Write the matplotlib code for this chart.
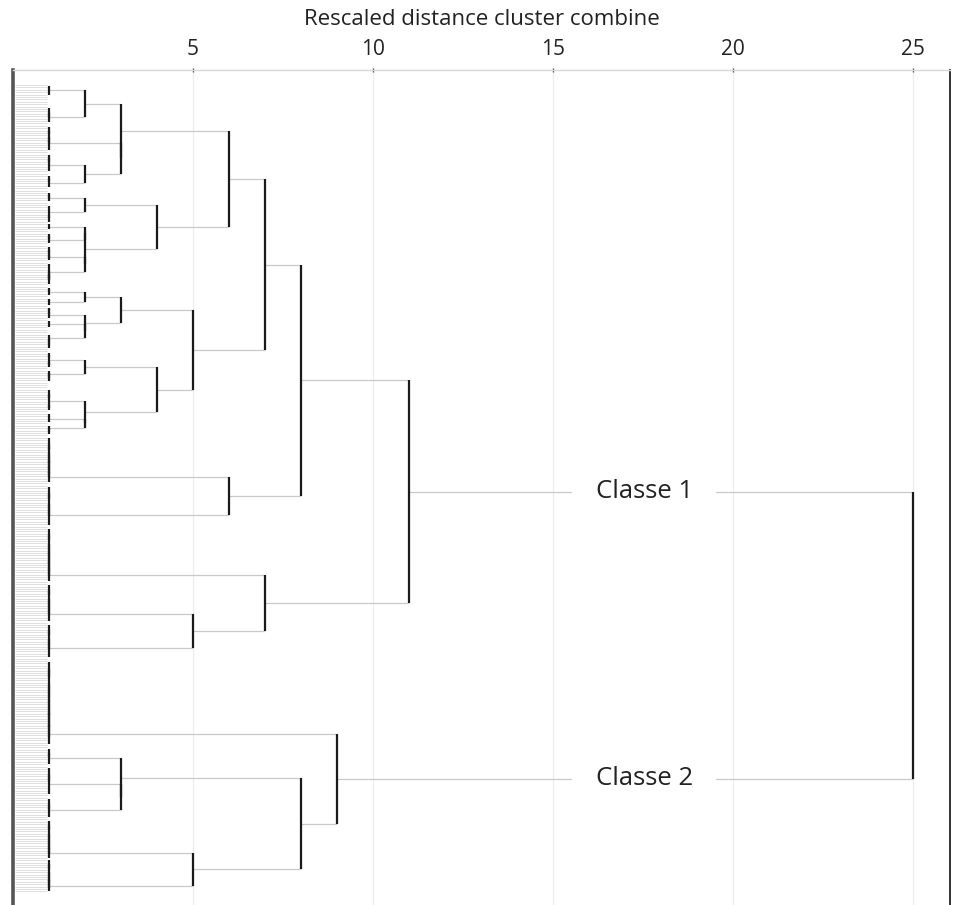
import matplotlib
matplotlib.use("Agg")
import matplotlib.pyplot as plt

plt.rcParams['font.family'] = ['Open Sans', 'DejaVu Sans']

# ---- data: dendrogram structure -------------------------------------------
# A node is (merge_distance, child1, child2, ...); children merge in sequence.
# An integer child is a tight sub-cluster with that many cases (distance ~0).
G1 = (1, 2, 5)
G2 = (1, (1, 6, 2), 2)
G3 = (1, (1, (1, 2, 4), 3), 3)
G4 = (1, (1, 1, 5), 3)
G5 = (1, (1, 1, 3), 2)
G6 = (1, (1, 3, 1), 2)
G7 = (1, 2, (1, 5, 1))
G8 = (1, 1, 3)
G9 = (1, (1, 1, 3), 1)
G10 = (1, (1, (1, 2, 3), 1), 1)
G11 = (1, 2, (1, (1, 4, 3), 1))
G12 = (1, (1, 2, 1), 2)
G13 = (1, (1, 1, 1), 2)
G14 = (1, (1, (1, 1, 1), 2), 1)
G15 = (1, 2, 3)
G16 = (1, 3, (1, 1, (1, 2, 2)))
G17 = (1, (1, 2, 2), (1, 2, 2))
G18 = (1, 1, (1, (1, 1, 1), 4))
G19 = (1, (1, 3, 4), (1, 2, 2))
G20 = (1, (1, 1, 2), 2)
G21 = (1, 1, (1, 1, (1, 1, 2)))
G22 = (1, 1, 9, 2, 2, 2, 2, 2)
G23 = (1, 2, 8, 6, 2)
G24 = (1, 1, 8, 4, 3, 3, 2, 2)
G25 = (1, 2, 6, 4, 3, 2)
G26 = (1, 1, 7, 5, 2)
G27 = (1, 2, 10, 8, 6, 4, 4, 2)
G28 = (1, 2, 5, 1)
G29 = (1, 2, 9, 2)
G30 = (1, 2, 6, 1)
G31 = (1, 2, 6, 4, 2, 2, 1)
G32 = (1, 1, 6, 4, 2, 1)

N3a = (3, (2, G1, G2), (3, G3, (2, G4, G5)))
N4a = (4, (2, G6, G7), (2, (2, G8, G9), (2, G10, G11)))
N3b = (3, (2, G12, G13), (2, G14, (2, G15, G16)))
N4b = (4, (2, G17, G18), (2, G19, (2, G20, G21)))
N7a = (7, (6, N3a, N4a), (5, N3b, N4b))
N8a = (8, N7a, (6, G22, G23))
CLASSE1 = (11, N8a, (7, G24, (5, G25, G26)))
CLASSE2 = (9, G27, (8, (3, G28, (3, G29, G30)), (5, G31, G32)))
ROOT = (25, CLASSE1, CLASSE2)

class_labels = ["Classe 1", "Classe 2"]
xticks = [5, 10, 15, 20, 25]
title = "Rescaled distance cluster combine"

# ---- layout ---------------------------------------------------------------
H_COL = "#c9c9c9"
V_COL = "#1a1a1a"

hsegs = []
vsegs = []
positions = {}
counter = [0]


def layout(node):
    if isinstance(node, int):
        start = counter[0]
        counter[0] += node
        return start + (node - 1) / 2.0, 0.0
    h = node[0]
    kids = node[1:]
    pos, kh = layout(kids[0])
    if 0 < kh < h:
        hsegs.append((pos, kh, h))
    for k in kids[1:]:
        p2, h2 = layout(k)
        if 0 < h2 < h:
            hsegs.append((p2, h2, h))
        vsegs.append((h, pos, p2))
        pos = (pos + p2) / 2.0
    positions[id(node)] = pos
    return pos, h


layout(ROOT)
n_leaves = counter[0]
class_pos = [positions[id(CLASSE1)], positions[id(CLASSE2)]]

fig = plt.figure(figsize=(9.64, 9.05), dpi=100)
ax = fig.add_axes([13 / 964, 0, (950 - 13) / 964, (905 - 70) / 905])

# gridlines
for t in xticks:
    ax.axvline(t, color="#ececec", lw=0.9, zorder=0)

# case lines
for i in range(n_leaves):
    ax.plot([0.05, 0.95], [i, i], color="#e0e0e0", lw=0.7, zorder=1,
            solid_capstyle="butt")

for y, x0, x1 in hsegs:
    ax.plot([x0, x1], [y, y], color=H_COL, lw=0.9, zorder=2,
            solid_capstyle="butt")
for x, y0, y1 in vsegs:
    ax.plot([x, x], [y0, y1], color=V_COL, lw=1.6, zorder=3,
            solid_capstyle="butt")

for lab, p in zip(class_labels, class_pos):
    ax.text(17.53, p, lab, ha="center", va="center", fontsize=18.5,
            color="#222222", zorder=4,
            bbox=dict(boxstyle="square,pad=0.9", fc="white", ec="none"))

s = 2.4  # px per case
ax.set_xlim(0, (950 - 13) / 36.0)
ax.set_ylim((905 - 85) / s, (70 - 85) / s)

ax.xaxis.tick_top()
ax.set_xticks(xticks)
ax.set_xticklabels([str(t) for t in xticks], fontsize=15, color="#222222")
ax.tick_params(axis="x", length=3, width=1, color="#555555", direction="inout",
               pad=6)
ax.set_yticks([])
ax.xaxis.set_label_position("top")
ax.set_xlabel(title, fontsize=16, color="#222222", labelpad=10)

ax.spines["top"].set_color("#d8d8d8")
ax.spines["top"].set_linewidth(1.0)
ax.spines["left"].set_color("#555555")
ax.spines["left"].set_linewidth(2.6)
ax.spines["right"].set_color("#333333")
ax.spines["right"].set_linewidth(1.4)
ax.spines["bottom"].set_visible(False)

fig.savefig("out.png", dpi=100)
